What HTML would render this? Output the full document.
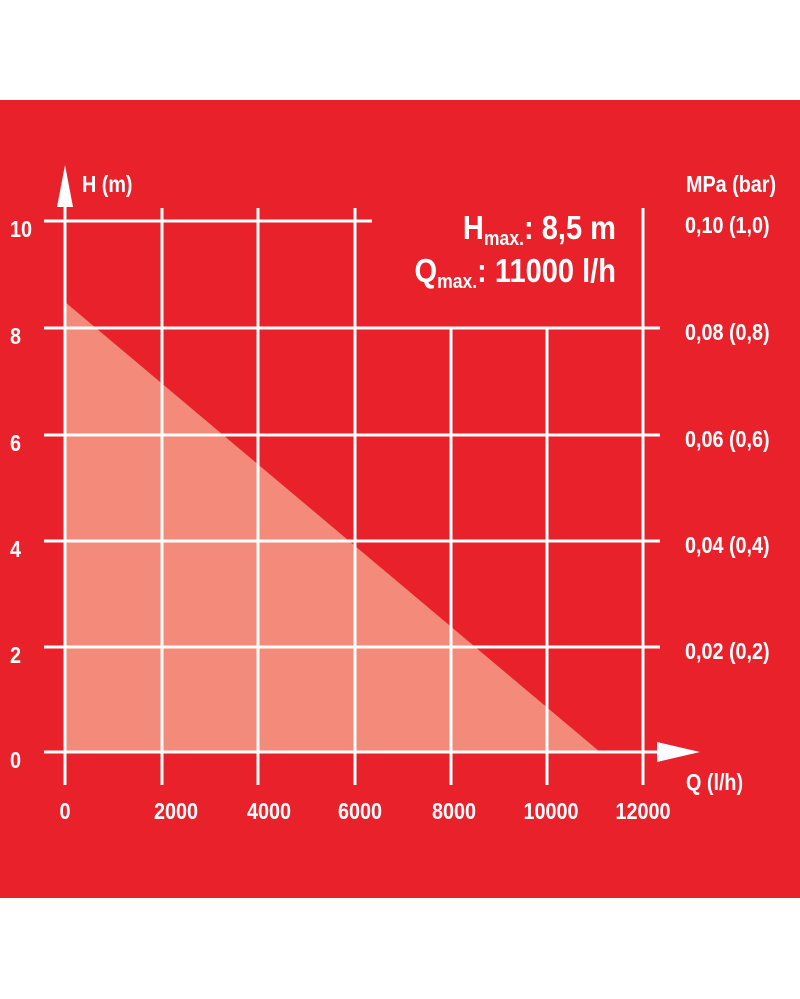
<!DOCTYPE html>
<html><head><style>
html,body{margin:0;padding:0;background:#fff;}
svg{display:block}
text{font-family:"Liberation Sans",sans-serif;font-weight:bold;fill:#fff;transform-box:fill-box;}
.s{transform:scaleX(0.86);transform-origin:left center;}
.m{transform:scaleX(0.86);transform-origin:center center;}
.e{transform:scaleX(0.88);transform-origin:right center;}
</style></head><body>
<svg width="800" height="999" viewBox="0 0 800 999">
<rect x="0" y="0" width="800" height="999" fill="#fff"/>
<rect x="0" y="100" width="800" height="798" fill="#e8212b"/>
<polygon points="65,302 600,752 65,752" fill="#f48a79"/>
<g stroke="#fff" stroke-width="3" fill="none">
<line x1="44" y1="221" x2="372" y2="221"/>
<line x1="44" y1="328" x2="660" y2="328"/>
<line x1="44" y1="435" x2="660" y2="435"/>
<line x1="44" y1="541" x2="660" y2="541"/>
<line x1="44" y1="647" x2="660" y2="647"/>
<line x1="44" y1="752" x2="660" y2="752"/>
<line x1="65" y1="200" x2="65" y2="785"/>
<line x1="162" y1="208" x2="162" y2="785"/>
<line x1="258" y1="208" x2="258" y2="785"/>
<line x1="355" y1="208" x2="355" y2="785"/>
<line x1="451" y1="328" x2="451" y2="785"/>
<line x1="547" y1="328" x2="547" y2="785"/>
<line x1="643" y1="208" x2="643" y2="785"/>
</g>
<polygon points="65,165 57,207 73,207" fill="#fff"/>
<polygon points="700,752 657,742 657,762" fill="#fff"/>
<g font-size="23">
<text class="s" x="82" y="192">H (m)</text>
<text class="s" x="686" y="192">MPa (bar)</text>
<text class="s" x="686" y="790">Q (l/h)</text>
<text class="s" x="10" y="237">10</text>
<text class="s" x="10" y="344">8</text>
<text class="s" x="10" y="451">6</text>
<text class="s" x="10" y="557">4</text>
<text class="s" x="10" y="663">2</text>
<text class="s" x="10" y="768">0</text>
<text class="s" x="685" y="233">0,10 (1,0)</text>
<text class="s" x="685" y="340">0,08 (0,8)</text>
<text class="s" x="685" y="447">0,06 (0,6)</text>
<text class="s" x="685" y="553">0,04 (0,4)</text>
<text class="s" x="685" y="659">0,02 (0,2)</text>
<g text-anchor="middle">
<text class="m" x="65" y="819">0</text>
<text class="m" x="176" y="819">2000</text>
<text class="m" x="269" y="819">4000</text>
<text class="m" x="360" y="819">6000</text>
<text class="m" x="454" y="819">8000</text>
<text class="m" x="551" y="819">10000</text>
<text class="m" x="643" y="819">12000</text>
</g>
</g>
<text class="e" x="616" y="239" text-anchor="end" font-size="33">H<tspan font-size="20" dy="6">max.</tspan><tspan dy="-6">: 8,5 m</tspan></text>
<text class="e" x="616" y="282" text-anchor="end" font-size="33">Q<tspan font-size="20" dy="6">max.</tspan><tspan dy="-6">: 11000 l/h</tspan></text>
</svg>
</body></html>
